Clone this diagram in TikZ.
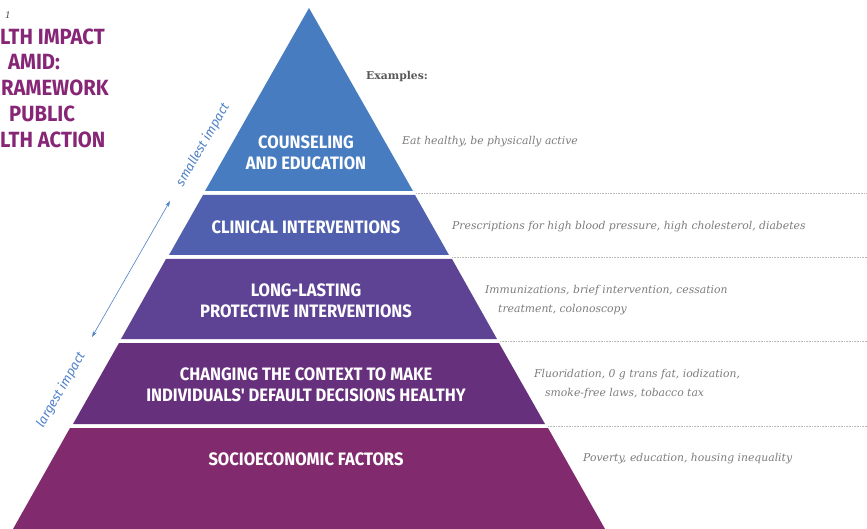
\documentclass[tikz,border=0pt]{standalone}
\usepackage{fontspec}
\usetikzlibrary{arrows.meta}
\setmainfont{DejaVu Serif}
\newfontfamily\labelfont{Fira Sans}
\newfontfamily\headfont[FakeStretch=0.92]{Fira Sans}
\definecolor{counsel}{RGB}{72,124,192}
\definecolor{clinical}{RGB}{80,96,174}
\definecolor{lasting}{RGB}{94,66,148}
\definecolor{context}{RGB}{102,48,124}
\definecolor{socio}{RGB}{130,42,110}
\definecolor{titlepurple}{RGB}{135,38,118}
\definecolor{impactblue}{RGB}{80,130,200}
\definecolor{exgray}{RGB}{125,125,125}
\tikzset{
  band/.style = {text=white, font=\headfont\bfseries\fontsize{18}{21}\selectfont, align=center},
  example/.style = {anchor=west, inner sep=0, text=exgray, align=left, font=\itshape\fontsize{10.8}{19}\selectfont},
  title/.style = {anchor=base west, inner sep=0, text=titlepurple, font=\headfont\bfseries\fontsize{22}{24}\selectfont},
  impact/.style = {text=impactblue, rotate=60, font=\labelfont\itshape\fontsize{13}{15}\selectfont},
  divider/.style = {gray!55, densely dotted, line width=0.6pt}
}
\begin{document}
\begin{tikzpicture}[x=1pt, y=-1pt]
  \useasboundingbox [fill=white] (0, 0) rectangle (867, 529);
  \fill [counsel] (309, 8) -- (413, 191) -- (205, 191) -- cycle;
  \fill [clinical] (203, 195) -- (415, 195) -- (449, 255) -- (169, 255) -- cycle;
  \fill [lasting] (166, 259) -- (452, 259) -- (497, 339) -- (121, 339) -- cycle;
  \fill [context] (119, 343) -- (499, 343) -- (545, 424) -- (73, 424) -- cycle;
  \fill [socio] (70, 428) -- (548, 428) -- (605, 529) -- (13, 529) -- cycle;
  \draw [divider] (416, 193) -- (867, 193);
  \draw [divider] (452, 257) -- (867, 257);
  \draw [divider] (500, 341) -- (867, 341);
  \draw [divider] (548, 426) -- (867, 426);

  \node [band] (counseling) at (306, 153) {COUNSELING\\AND EDUCATION};
  \node [band] (clinic) at (306, 227) {CLINICAL INTERVENTIONS};
  \node [band] (protect) at (306, 300.5) {LONG-LASTING\\PROTECTIVE INTERVENTIONS};
  \node [band] (change) at (306, 384.5) {CHANGING THE CONTEXT TO MAKE\\INDIVIDUALS' DEFAULT DECISIONS HEALTHY};
  \node [band] (factors) at (306, 459) {SOCIOECONOMIC FACTORS};

  \node [anchor=west, inner sep=0, text=black!65, font=\bfseries\fontsize{10.8}{12}\selectfont] (examples) at (366, 77) {Examples:};
  \node [example] (ex1) at (402, 142) {Eat healthy, be physically active};
  \node [example] (ex2) at (452, 227) {Prescriptions for high blood pressure, high cholesterol, diabetes};
  \node [example] (ex3) at (485, 300) {Immunizations, brief intervention, cessation\\\hspace*{13pt}treatment, colonoscopy};
  \node [example] (ex4) at (534, 384) {Fluoridation, 0 g trans fat, iodization,\\\hspace*{11pt}smoke-free laws, tobacco tax};
  \node [example] (ex5) at (583, 459) {Poverty, education, housing inequality};

  \node [anchor=base west, inner sep=0, text=black!70, font=\itshape\fontsize{9}{10}\selectfont] (fig) at (5, 19) {1};
  \node [title] (t1) at (0, 45) {LTH IMPACT};
  \node [title] (t2) at (8, 70) {AMID:};
  \node [title] (t3) at (1, 96) {RAMEWORK};
  \node [title] (t4) at (9, 122) {PUBLIC};
  \node [title] (t5) at (0, 148) {LTH ACTION};

  \coordinate (largest) at (92, 337);
  \coordinate (smallest) at (170, 201);
  \draw [{Stealth[length=6pt, width=4pt]}-{Stealth[length=6pt, width=4pt]}, impactblue, line width=0.6pt] (largest) -- (smallest);
  \node [impact] (small) at (203, 145) {smallest impact};
  \node [impact] (large) at (61, 390) {largest impact};
\end{tikzpicture}
\end{document}
